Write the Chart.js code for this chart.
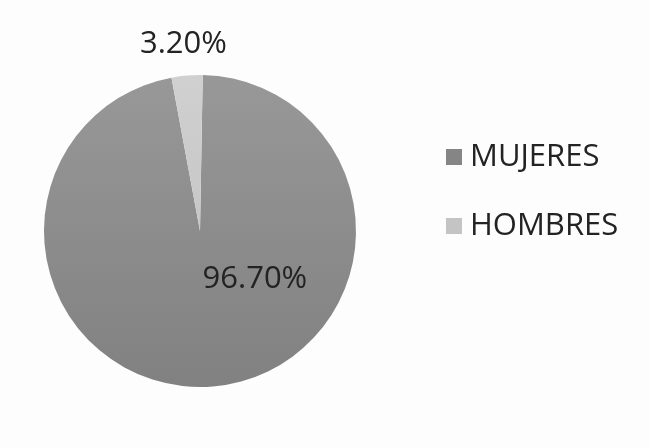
<!DOCTYPE html>
<html>
<head>
<meta charset="utf-8">
<script src="https://cdn.jsdelivr.net/npm/chart.js@4.4.1/dist/chart.umd.min.js"></script>
<style>
  html, body { margin: 0; padding: 0; background: #fdfdfd; }
  #wrap { width: 650px; height: 448px; }
</style>
</head>
<body>
<div id="wrap"><canvas id="grafico"></canvas></div>
<script>
// datos
var categorias = ['MUJERES', 'HOMBRES'];
var valores = [96.7, 3.2];
var etiquetas = ['96.70%', '3.20%'];

// colores de base (arriba / abajo para el degradado)
var coloresArriba = ['#989898', '#d0d0d0'];
var coloresAbajo = ['#818181', '#bdbdbd'];
var coloresLeyenda = ['#858585', '#c4c4c4'];

var fuente = '"Open Sans", "Noto Sans", sans-serif';

function colorSector(ctx) {
    var chart = ctx.chart;
    var area = chart.chartArea;
    if (!area) return coloresArriba[ctx.dataIndex];
    var g = chart.ctx.createLinearGradient(0, area.top, 0, area.bottom);
    g.addColorStop(0, coloresArriba[ctx.dataIndex]);
    g.addColorStop(1, coloresAbajo[ctx.dataIndex]);
    return g;
}

// etiquetas de los sectores (a mano, no hay plugin datalabels)
var pluginEtiquetas = {
    id: 'etiquetas',
    afterDatasetsDraw: function (chart) {
        var ctx = chart.ctx;
        var meta = chart.getDatasetMeta(0);
        ctx.save();
        ctx.font = '31px ' + fuente;
        ctx.fillStyle = '#232323';
        ctx.textAlign = 'center';
        ctx.textBaseline = 'middle';
        meta.data.forEach(function (arc, i) {
            var p = arc.getProps(['x', 'y', 'startAngle', 'endAngle', 'outerRadius'], true);
            var ang, dist;
            if (i === 0) {
                // mejor ajuste dentro del sector grande
                ang = -Math.PI / 2 + 131.5 * Math.PI / 180;
                dist = p.outerRadius * 0.47;
            } else {
                ang = (p.startAngle + p.endAngle) / 2 - 0.3 * Math.PI / 180;
                dist = p.outerRadius * 1.2;
            }
            ctx.fillText(etiquetas[i], p.x + Math.cos(ang) * dist, p.y + Math.sin(ang) * dist);
        });
        ctx.restore();
    }
};

// leyenda a la derecha
var pluginLeyenda = {
    id: 'leyendaDerecha',
    afterDraw: function (chart) {
        var ctx = chart.ctx;
        ctx.save();
        ctx.font = '31px ' + fuente;
        ctx.textBaseline = 'middle';
        categorias.forEach(function (c, i) {
            var y = 157 + i * 69;
            ctx.fillStyle = coloresLeyenda[i];
            ctx.fillRect(446, y - 8, 16, 16);
            ctx.fillStyle = '#232323';
            ctx.fillText(c, 470, y);
        });
        ctx.restore();
    }
};

var grafico = new Chart(document.getElementById('grafico'), {
    type: 'pie',
    data: {
        labels: categorias,
        datasets: [{
            data: valores,
            backgroundColor: colorSector,
            borderWidth: 0
        }]
    },
    options: {
        responsive: true,
        maintainAspectRatio: false,
        animation: false,
        rotation: 1,
        layout: {
            padding: { left: 44, right: 294, top: 75, bottom: 61 }
        },
        plugins: {
            legend: { display: false },
            tooltip: { enabled: false }
        }
    },
    plugins: [pluginEtiquetas, pluginLeyenda]
});
</script>
</body>
</html>
